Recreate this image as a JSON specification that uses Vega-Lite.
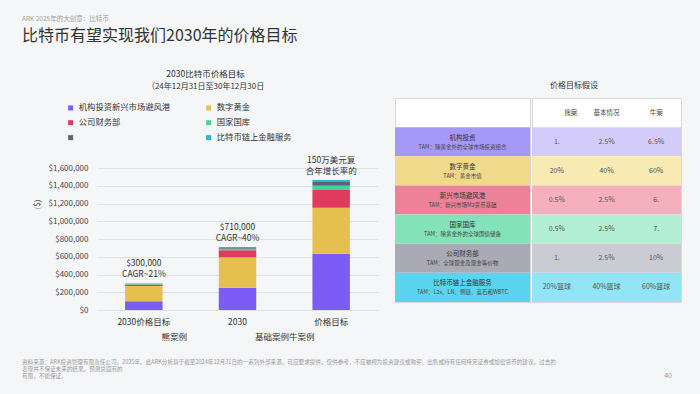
{
  "$schema": "https://vega.github.io/schema/vega-lite/v6.json",
  "background": "#f5f6f8",
  "padding": {"left": 22, "top": 16, "right": 22, "bottom": 14},
  "title": {
    "text": "ARK 2025年的大创意：比特币",
    "subtitle": "比特币有望实现我们2030年的价格目标",
    "anchor": "start",
    "frame": "bounds",
    "fontSize": 6.5,
    "fontWeight": "normal",
    "color": "#a0a0a0",
    "subtitleFontSize": 16,
    "subtitleColor": "#333333",
    "subtitlePadding": 5,
    "offset": 26
  },
  "datasets": {
    "bars": [
      {"case": "2030价格目标", "segment": "机构投资新兴市场避风港", "value": 100000},
      {"case": "2030价格目标", "segment": "数字黄金", "value": 170000},
      {"case": "2030价格目标", "segment": "公司财务部", "value": 18000},
      {"case": "2030价格目标", "segment": "国家国库", "value": 5000},
      {"case": "2030价格目标", "segment": "未标注", "value": 4000},
      {"case": "2030价格目标", "segment": "比特币链上金融服务", "value": 3000},
      {"case": "2030", "segment": "机构投资新兴市场避风港", "value": 250000},
      {"case": "2030", "segment": "数字黄金", "value": 345000},
      {"case": "2030", "segment": "公司财务部", "value": 80000},
      {"case": "2030", "segment": "国家国库", "value": 12000},
      {"case": "2030", "segment": "未标注", "value": 8000},
      {"case": "2030", "segment": "比特币链上金融服务", "value": 15000},
      {"case": "价格目标", "segment": "机构投资新兴市场避风港", "value": 635000},
      {"case": "价格目标", "segment": "数字黄金", "value": 518000},
      {"case": "价格目标", "segment": "公司财务部", "value": 199000},
      {"case": "价格目标", "segment": "国家国库", "value": 49000},
      {"case": "价格目标", "segment": "未标注", "value": 41000},
      {"case": "价格目标", "segment": "比特币链上金融服务", "value": 23000}
    ],
    "notes": [
      {"case": "2030价格目标", "value": 300000, "note": "$300,000\nCAGR~21%"},
      {"case": "2030", "value": 710000, "note": "$710,000\nCAGR~40%"},
      {"case": "价格目标", "value": 1465000, "note": "150万美元复\n合年增长率的"}
    ],
    "table": [
      {"cat": "机构投资", "tam": "TAM：除黄金外的全球市场投资组合", "bear": "1.", "base": "2.5%", "bull": "6.5%"},
      {"cat": "数字黄金", "tam": "TAM：黄金市值", "bear": "20%", "base": "40%", "bull": "60%"},
      {"cat": "新兴市场避风港", "tam": "TAM：新兴市场M2货币基础", "bear": "0.5%", "base": "2.5%", "bull": "6."},
      {"cat": "国家国库", "tam": "TAM：除黄金外的全球国债储备", "bear": "0.5%", "base": "2.5%", "bull": "7."},
      {"cat": "公司财务部", "tam": "TAM：全球现金及现金等价物", "bear": "1.", "base": "2.5%", "bull": "10%"},
      {"cat": "比特币链上金融服务", "tam": "TAM：L2s、LN、侧链、蓝石和WBTC", "bear": "20%篮球", "base": "40%篮球", "bull": "60%篮球"}
    ],
    "header": [
      {"scenario": "bear", "label": "熊案"},
      {"scenario": "base", "label": "基本情况"},
      {"scenario": "bull", "label": "牛案"}
    ],
    "footer": [
      {"part": "note", "line": 1, "text": "资料来源：ARK投资管理有限责任公司，2025年。此ARK分析基于截至2024年12月31日的一系列外部来源，可应要求提供。仅供参考，不应被视为投资建议或购买、出售或持有任何特定证券或加密货币的建议。过去的"},
      {"part": "note", "line": 2, "text": "表现并不保证未来的结果。预测总固有的"},
      {"part": "note", "line": 3, "text": "有限，不能保证。"},
      {"part": "page", "line": 3, "text": "40"}
    ]
  },
  "spacing": 19,
  "resolve": {"scale": {"color": "independent"}},
  "vconcat": [
    {
      "spacing": 16,
      "resolve": {"scale": {"color": "independent"}},
      "hconcat": [
        {
          "width": 281,
          "height": 212,
          "title": {
            "text": "2030比特币价格目标",
            "subtitle": "（24年12月31日至30年12月30日",
            "anchor": "middle",
            "frame": "bounds",
            "fontSize": 8.5,
            "fontWeight": "normal",
            "color": "#333333",
            "subtitleFontSize": 8,
            "subtitleColor": "#333333",
            "subtitlePadding": 5,
            "offset": 7
          },
          "encoding": {
            "x": {
              "field": "case", "type": "nominal",
              "sort": ["2030价格目标", "2030", "价格目标"],
              "scale": {"paddingInner": 0.6, "paddingOuter": 0.3},
              "axis": {
                "labelAngle": 0, "ticks": false, "domain": false,
                "labelPadding": 7, "labelFontSize": 8.5, "labelColor": "#333333",
                "title": "熊案例　　　　　　　　基础案例牛案例",
                "titleFontSize": 8.5, "titleFontWeight": "normal", "titleColor": "#333333", "titlePadding": 7
              }
            },
            "y": {
              "field": "value", "type": "quantitative",
              "scale": {"domain": [0, 2390000], "nice": false},
              "axis": {
                "values": [0, 200000, 400000, 600000, 800000, 1000000, 1200000, 1400000, 1600000],
                "format": "$,.0f", "grid": true, "gridColor": "#e2e2e2", "domain": false, "ticks": false,
                "labelOverlap": false,
                "labelPadding": 9, "labelFontSize": 8, "labelColor": "#444444",
                "title": "($)", "titleFontSize": 8, "titleFontWeight": "normal", "titleColor": "#444444", "titlePadding": 7
              }
            }
          },
          "layer": [
            {
              "data": {"name": "bars"},
              "transform": [
                {"calculate": "indexof(['机构投资新兴市场避风港', '数字黄金', '公司财务部', '国家国库', '未标注', '比特币链上金融服务'], datum.segment)", "as": "stackRank"}
              ],
              "mark": {"type": "bar"},
              "encoding": {
                "order": {"field": "stackRank", "type": "quantitative", "sort": "ascending"},
                "color": {
                  "field": "segment", "type": "nominal",
                  "sort": ["机构投资新兴市场避风港", "数字黄金", "公司财务部", "国家国库", "未标注", "比特币链上金融服务"],
                  "scale": {
                    "domain": ["机构投资新兴市场避风港", "数字黄金", "公司财务部", "国家国库", "未标注", "比特币链上金融服务"],
                    "range": ["#7b5cf5", "#e6c04e", "#e03a5c", "#3fd79a", "#5f6472", "#1fb9da"]
                  },
                  "legend": {
                    "orient": "none", "legendX": -30.5, "legendY": 5.5,
                    "direction": "horizontal", "columns": 2, "columnPadding": 34, "rowPadding": 6,
                    "symbolType": "square", "symbolSize": 25, "symbolStrokeWidth": 0,
                    "labelFontSize": 8.3, "labelColor": "#333333", "labelOffset": 4, "labelLimit": 200,
                    "title": null,
                    "labelExpr": "datum.label == '未标注' ? '' : datum.label"
                  }
                }
              }
            },
            {
              "data": {"name": "notes"},
              "mark": {"type": "text", "lineBreak": "\n", "baseline": "bottom", "dy": -15, "fontSize": 8.5, "lineHeight": 10.5, "color": "#333333"},
              "encoding": {
                "text": {"field": "note"}
              }
            }
          ]
        },
        {
          "title": {
            "text": "价格目标假设",
            "anchor": "middle",
            "frame": "bounds",
            "fontSize": 8,
            "fontWeight": "normal",
            "color": "#333333",
            "dx": 36,
            "offset": 8
          },
          "spacing": 0,
          "resolve": {"scale": {"color": "independent"}},
          "hconcat": [
            {
              "width": 135,
              "height": 204,
              "data": {"name": "table"},
              "view": {"fill": "white", "stroke": "#d9d9d9"},
              "encoding": {
                "y": {
                  "field": "cat", "type": "nominal",
                  "scale": {"domain": ["表头", "机构投资", "数字黄金", "新兴市场避风港", "国家国库", "公司财务部", "比特币链上金融服务"], "paddingInner": 0, "paddingOuter": 0},
                  "axis": null
                }
              },
              "layer": [
                {
                  "mark": {"type": "rect"},
                  "encoding": {
                    "color": {
                      "field": "cat", "type": "nominal",
                      "scale": {
                        "domain": ["机构投资", "数字黄金", "新兴市场避风港", "国家国库", "公司财务部", "比特币链上金融服务"],
                        "range": ["#a698f6", "#f0d98b", "#ec8198", "#83e2b8", "#a9aab3", "#5bd4ef"]
                      },
                      "legend": null
                    }
                  }
                },
                {
                  "mark": {"type": "text", "dy": -4, "fontSize": 6.5, "color": "#333333"},
                  "encoding": {"text": {"field": "cat"}}
                },
                {
                  "mark": {"type": "text", "dy": 5, "fontSize": 5.5, "color": "#444444"},
                  "encoding": {"text": {"field": "tam"}}
                }
              ]
            },
            {
              "width": 149,
              "height": 204,
              "view": {"fill": "white", "stroke": "#d9d9d9"},
              "layer": [
                {
                  "data": {"name": "table"},
                  "mark": {"type": "rect"},
                  "encoding": {
                    "y": {
                      "field": "cat", "type": "nominal",
                      "scale": {"domain": ["表头", "机构投资", "数字黄金", "新兴市场避风港", "国家国库", "公司财务部", "比特币链上金融服务"], "paddingInner": 0, "paddingOuter": 0},
                      "axis": null
                    },
                    "color": {
                      "field": "cat", "type": "nominal",
                      "scale": {
                        "domain": ["机构投资", "数字黄金", "新兴市场避风港", "国家国库", "公司财务部", "比特币链上金融服务"],
                        "range": ["#d3ccfb", "#f7eab3", "#f5afbd", "#b3efd3", "#cbccd3", "#92e5f6"]
                      },
                      "legend": null
                    }
                  }
                },
                {
                  "data": {"name": "table"},
                  "transform": [{"fold": ["bear", "base", "bull"], "as": ["scenario", "val"]}],
                  "mark": {"type": "text", "fontSize": 7, "color": "#555555"},
                  "encoding": {
                    "y": {"field": "cat", "type": "nominal"},
                    "x": {
                      "field": "scenario", "type": "nominal",
                      "scale": {"domain": ["bear", "base", "bull"], "paddingInner": 0, "paddingOuter": 0},
                      "axis": null
                    },
                    "text": {"field": "val"}
                  }
                },
                {
                  "data": {"name": "header"},
                  "transform": [{"filter": "datum.scenario == 'bear'"}],
                  "mark": {"type": "text", "fontSize": 6.5, "color": "#444444", "dx": 14},
                  "encoding": {
                    "y": {"datum": "表头", "type": "nominal"},
                    "x": {"field": "scenario", "type": "nominal"},
                    "text": {"field": "label"}
                  }
                },
                {
                  "data": {"name": "header"},
                  "transform": [{"filter": "datum.scenario != 'bear'"}],
                  "mark": {"type": "text", "fontSize": 6.5, "color": "#444444"},
                  "encoding": {
                    "y": {"datum": "表头", "type": "nominal"},
                    "x": {"field": "scenario", "type": "nominal"},
                    "text": {"field": "label"}
                  }
                }
              ]
            }
          ]
        }
      ]
    },
    {
      "width": 575,
      "height": 14,
      "data": {"name": "footer"},
      "encoding": {
        "x": {"field": "part", "type": "nominal", "scale": {"type": "point", "domain": ["note", "page"], "padding": 0}, "axis": null},
        "y": {"field": "line", "type": "ordinal", "scale": {"type": "point", "padding": 0}, "axis": null},
        "text": {"field": "text"}
      },
      "layer": [
        {
          "transform": [{"filter": "datum.part == 'note'"}],
          "mark": {"type": "text", "align": "left", "dx": -75, "fontSize": 5.6, "color": "#9a9a9a"}
        },
        {
          "transform": [{"filter": "datum.part == 'page'"}],
          "mark": {"type": "text", "align": "right", "fontSize": 7, "color": "#9a9a9a"}
        }
      ]
    }
  ],
  "config": {
    "font": "Noto Sans CJK SC",
    "view": {"stroke": null}
  }
}
